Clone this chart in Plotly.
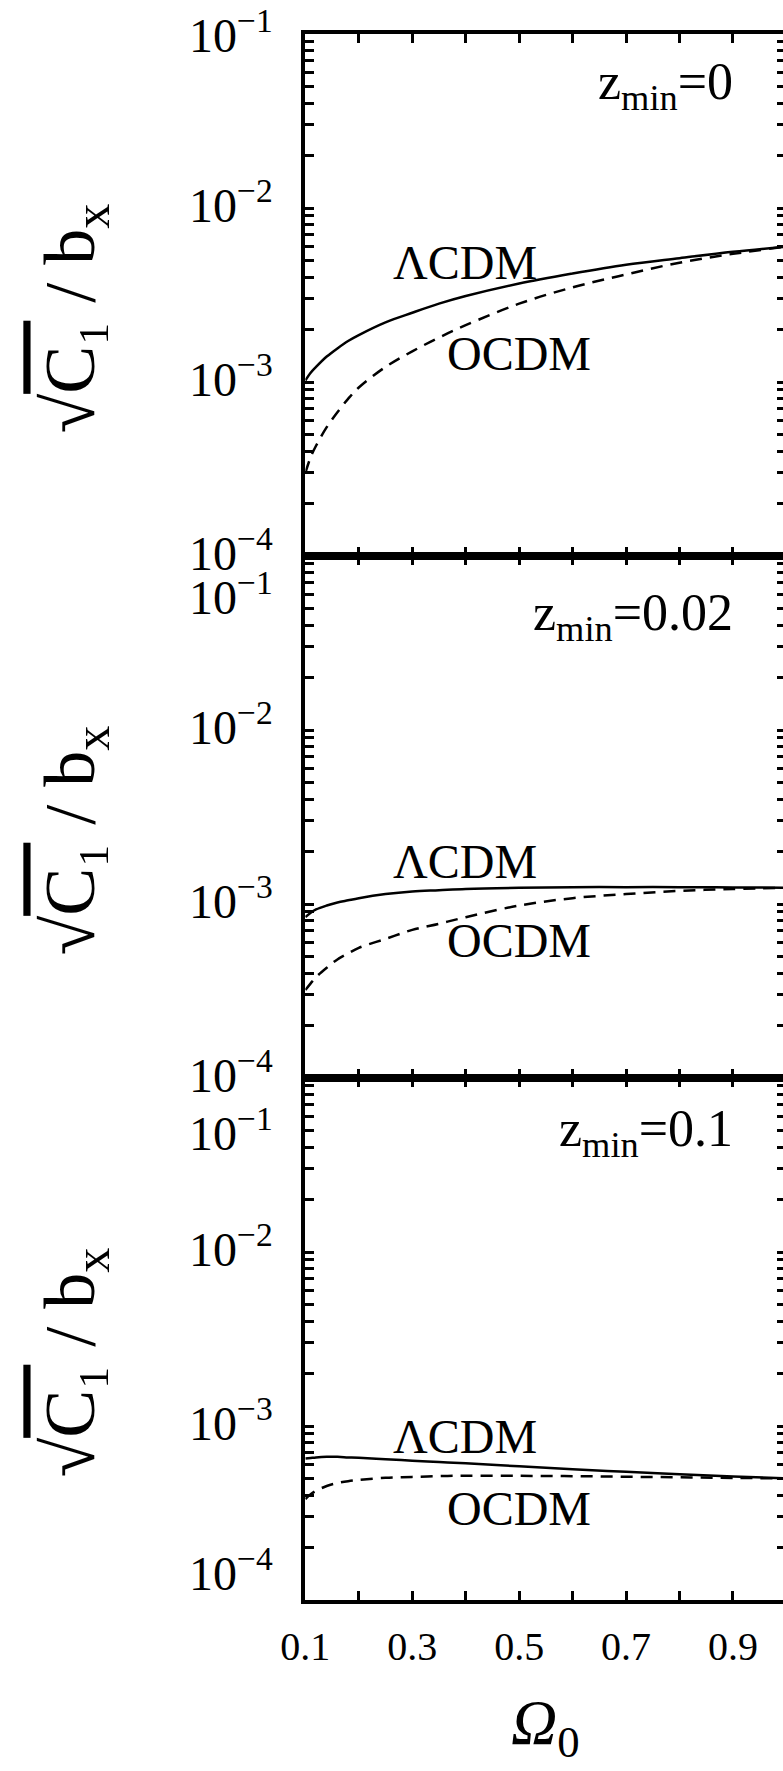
import plotly.graph_objects as go
from plotly.subplots import make_subplots

# ---------------- data ----------------
omega0 = [0.1, 0.11, 0.12, 0.14, 0.16, 0.18, 0.2, 0.25, 0.3, 0.35, 0.4, 0.5, 0.6, 0.7, 0.8, 0.9, 1.0]

# z_min = 0
lcdm_z0 = [1.02e-3, 1.13e-3, 1.22e-3, 1.4e-3, 1.56e-3, 1.72e-3, 1.86e-3, 2.2e-3, 2.5e-3, 2.82e-3, 3.12e-3,
           3.68e-3, 4.2e-3, 4.72e-3, 5.15e-3, 5.6e-3, 6.0e-3]
ocdm_z0 = [3.0e-4, 3.7e-4, 4.3e-4, 5.5e-4, 6.7e-4, 8.0e-4, 9.3e-4, 1.22e-3, 1.5e-3, 1.8e-3, 2.12e-3,
           2.82e-3, 3.5e-3, 4.15e-3, 4.85e-3, 5.45e-3, 6.0e-3]

# z_min = 0.02
lcdm_z002 = [8.4e-4, 8.9e-4, 9.3e-4, 9.8e-4, 1.02e-3, 1.05e-3, 1.08e-3, 1.14e-3, 1.18e-3, 1.2e-3, 1.22e-3,
             1.24e-3, 1.25e-3, 1.25e-3, 1.25e-3, 1.245e-3, 1.24e-3]
ocdm_z002 = [3.2e-4, 3.5e-4, 3.8e-4, 4.3e-4, 4.8e-4, 5.2e-4, 5.6e-4, 6.3e-4, 7.1e-4, 7.7e-4, 8.4e-4,
             9.8e-4, 1.08e-3, 1.14e-3, 1.19e-3, 1.22e-3, 1.24e-3]

# z_min = 0.1
lcdm_z01 = [6.5e-4, 6.55e-4, 6.6e-4, 6.65e-4, 6.65e-4, 6.6e-4, 6.56e-4, 6.45e-4, 6.32e-4, 6.2e-4, 6.1e-4,
            5.87e-4, 5.65e-4, 5.45e-4, 5.28e-4, 5.13e-4, 5.0e-4]
ocdm_z01 = [3.8e-4, 4.05e-4, 4.24e-4, 4.52e-4, 4.7e-4, 4.82e-4, 4.9e-4, 5.04e-4, 5.1e-4, 5.15e-4, 5.18e-4,
            5.17e-4, 5.15e-4, 5.11e-4, 5.07e-4, 5.03e-4, 5.0e-4]

panel_labels = ["z<sub>min</sub>=0", "z<sub>min</sub>=0.02", "z<sub>min</sub>=0.1"]
x_tickvals = [0.1, 0.2, 0.3, 0.4, 0.5, 0.6, 0.7, 0.8, 0.9, 1.0]
x_ticktext = ["0.1", "", "0.3", "", "0.5", "", "0.7", "", "0.9", ""]
decades = [-4, -3, -2, -1]
decade_text = ["10<sup>\u22124</sup>", "10<sup>\u22123</sup>", "10<sup>\u22122</sup>", "10<sup>\u22121</sup>"]

# ---------------- layout helpers ----------------
# figure is a little wider than the 783px window: like the original, the right frame line falls
# just outside the picture and only its inward ticks show
W, H = 790, 1771
FONT = "Liberation Serif, Times New Roman, serif"


def X(px):  # page pixel -> paper fraction
    return px / W


def Y(py):
    return 1 - py / H


panel_px = [(34, 556), (556, 1078), (1078, 1600)]
y_range = [-4, -1]
x_left, x_right = 289.5, 786.3
x_range = [0.1, 1.0]

# log tick values: decades plus 2..9 multiples
ytv = []
for d in decades:
    ytv.append(10 ** d)
    if d < -1:
        for m in range(2, 10):
            ytv.append(m * 10 ** d)

fig = make_subplots(rows=3, cols=1, shared_xaxes=False, vertical_spacing=0)

series = [(lcdm_z0, ocdm_z0), (lcdm_z002, ocdm_z002), (lcdm_z01, ocdm_z01)]
for i, (lc, oc) in enumerate(series):
    fig.add_trace(go.Scatter(x=omega0, y=lc, mode="lines", line=dict(color="black", width=2.5, shape="spline"),
                             showlegend=False, hoverinfo="skip"), row=i + 1, col=1)
    fig.add_trace(go.Scatter(x=omega0, y=oc, mode="lines",
                             line=dict(color="black", width=2.5, dash="12px,8px", shape="spline"),
                             showlegend=False, hoverinfo="skip"), row=i + 1, col=1)

ann = []
for i in range(3):
    top, bot = panel_px[i]
    xa = "xaxis" if i == 0 else f"xaxis{i + 1}"
    ya = "yaxis" if i == 0 else f"yaxis{i + 1}"
    yref = "y" if i == 0 else f"y{i + 1}"
    fig.layout[xa].update(
        domain=[X(x_left), X(x_right)], range=x_range, showline=True, linewidth=4, linecolor="black",
        mirror="ticks", ticks="inside", ticklen=9, tickwidth=3, tickcolor="black",
        tickvals=x_tickvals, ticktext=x_ticktext,
        showticklabels=(i == 2), showgrid=False, zeroline=False,
        tickfont=dict(family=FONT, size=40, color="black"), ticklabelstandoff=8,
    )
    fig.layout[ya].update(
        domain=[Y(bot), Y(top)], type="log", range=y_range, showline=True, linewidth=4,
        linecolor="black", mirror="ticks", ticks="inside", ticklen=9, tickwidth=3, tickcolor="black",
        tickvals=ytv, showticklabels=False, showgrid=False, zeroline=False,
    )
    # decade labels (the outer ones of the lower panels are nudged away from the panel joins)
    for d, t in zip(decades, decade_text):
        shift = 6
        if i == 0 and d == -1:
            shift = 2
        if i == 1 and d == -1:
            shift = -38
        if i == 2 and d == -1:
            shift = -52
        if i == 2 and d == -4:
            shift = 30
        ann.append(dict(text=t, x=X(258), y=d, xref="paper", yref=yref, xanchor="right", yanchor="middle",
                        yshift=shift, showarrow=False, font=dict(family=FONT, size=48, color="black")))

# y-axis titles
ytitle = "\u221a<span style='text-decoration:overline'>C\u2081</span> / b<sub>x</sub>"
for i in range(3):
    top, bot = panel_px[i]
    ann.append(dict(text=ytitle, x=X(52), y=Y(top + 284), xref="paper", yref="paper", textangle=-90,
                    xanchor="center", yanchor="middle",
                    showarrow=False, font=dict(family=FONT, size=72, color="black")))
# x-axis title
ann.append(dict(text="<i>\u03a9</i><sub>0</sub>", x=X(537), y=Y(1727), xref="paper", yref="paper",
                xanchor="center", yanchor="middle",
                showarrow=False, font=dict(family=FONT, size=64, color="black")))
# panel labels
for lbl, cy in zip(panel_labels, (85, 616, 1132)):
    ann.append(dict(text=lbl, x=X(733), y=Y(cy), xref="paper", yref="paper", xanchor="right",
                    yanchor="middle", showarrow=False, font=dict(family=FONT, size=52, color="black")))
# curve labels
curve_lbls = [(454, 262, "\u039bCDM"), (510, 353, "OCDM"),
              (454, 862, "\u039bCDM"), (510, 940, "OCDM"),
              (454, 1436, "\u039bCDM"), (510, 1508, "OCDM")]
for cx, cy, t in curve_lbls:
    ann.append(dict(text=t, x=X(cx), y=Y(cy), xref="paper", yref="paper", showarrow=False,
                    xanchor="center", yanchor="middle",
                    font=dict(family=FONT, size=48, color="black")))

fig.update_layout(width=W, height=H, margin=dict(l=0, r=0, t=0, b=0), paper_bgcolor="white",
                  plot_bgcolor="white", annotations=ann, showlegend=False, hovermode=False)

# drop the browser's default 8px page margin and any scrollbars so the figure sits at the page origin
fig.write_html(
    "out.html",
    config={"displayModeBar": False, "staticPlot": True},
    post_script="document.documentElement.style.overflow='hidden';"
                "document.body.style.margin='0px';document.body.style.overflow='hidden';",
)
